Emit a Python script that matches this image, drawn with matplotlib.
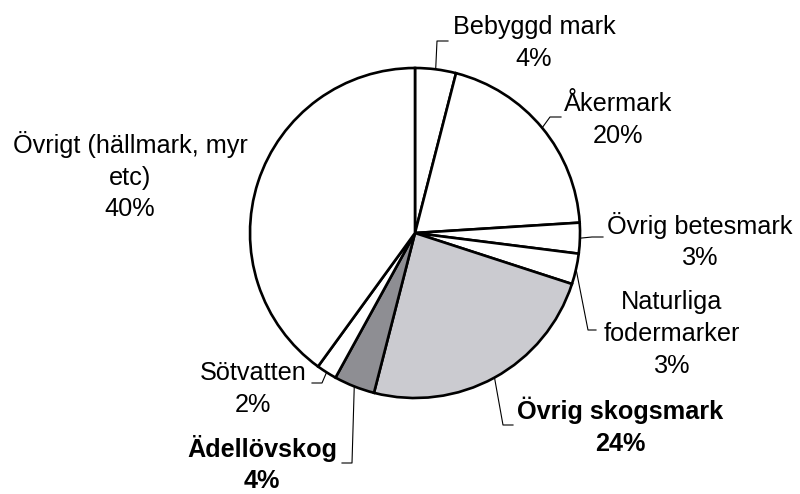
import numpy as np
import matplotlib.pyplot as plt

plt.rcParams['font.family'] = ['Liberation Sans', 'DejaVu Sans']

# andelar av markanvändning (%)
names = ["Bebyggd mark", "Åkermark", "Övrig betesmark", "Naturliga\nfodermarker",
         "Övrig skogsmark", "Ädellövskog", "Sötvatten", "Övrigt (hällmark, myr\netc)"]
values = [4, 20, 3, 3, 24, 4, 2, 40]
bold = [False, False, False, False, True, True, False, False]
colors = ["white", "white", "white", "white", "#cbcbd0", "#8e8e93", "white", "white"]

W, H = 800, 494
CX, CY, R = 415, 233, 165

fig = plt.figure(figsize=(8, 4.94), dpi=100)
ax = fig.add_axes([0, 0, 1, 1])

wedges, _ = ax.pie(values, colors=colors, startangle=90, counterclock=False,
                   center=(CX, H - CY), radius=R,
                   wedgeprops=dict(edgecolor="black", linewidth=1.9))
ax.set_xlim(0, W)
ax.set_ylim(0, H)
ax.set_aspect("equal")
ax.axis("off")

# etikettplacering (pixlar, y nedåt): textcentrum, leader-knäckpunkter
text_pos = [(534, 43), (618, 120), (700, 241), (672, 334),
            (620, 426), (262, 464), (253, 389), (130, 176)]
elbows = [[(437, 41), (448, 41)],
          [(550, 117), (561, 117)],
          [(592, 237), (603, 237)],
          [(588, 330), (596, 330)],
          [(503, 425), (513, 425)],
          [(352, 463), (342, 463)],
          [(322, 383), (312, 383)],
          None]

for w, name, v, b, tp, el in zip(wedges, names, values, bold, text_pos, elbows):
    ax.text(tp[0], H - tp[1], f"{name}\n{v}%", ha="center", va="center",
            fontsize=18.2, fontweight="bold" if b else "normal",
            linespacing=1.42, color="black")
    if el is not None:
        mid = np.deg2rad((w.theta1 + w.theta2) / 2)
        ex = CX + R * np.cos(mid)
        ey = (H - CY) + R * np.sin(mid)
        xs = [ex] + [p[0] for p in el]
        ys = [ey] + [H - p[1] for p in el]
        ax.plot(xs, ys, color="black", linewidth=0.8)

plt.savefig("out.png", dpi=100)
